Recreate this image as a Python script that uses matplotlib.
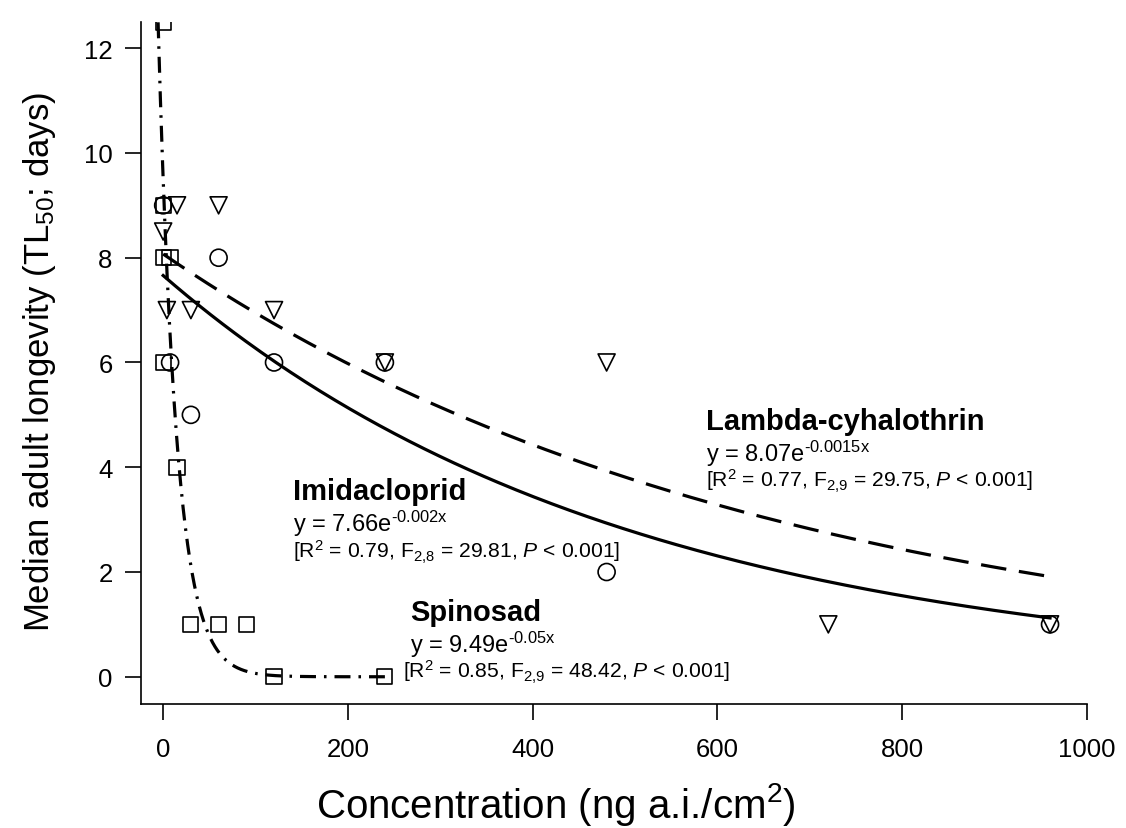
import numpy as np
import matplotlib
matplotlib.use("Agg")
import matplotlib.pyplot as plt

plt.rcParams['font.family'] = ['Liberation Sans', 'DejaVu Sans']
plt.rcParams['mathtext.fontset'] = 'custom'
plt.rcParams['mathtext.rm'] = 'Liberation Sans'
plt.rcParams['mathtext.it'] = 'Liberation Sans:italic'
plt.rcParams['mathtext.bf'] = 'Liberation Sans:bold'

# --- datos
spin_x = [0, 0, 0, 7.5, 0, 15, 30, 60, 90, 120, 240]
spin_y = [12.5, 9, 8, 8, 6, 4, 1, 1, 1, 0, 0]

imid_x = [0, 60, 7.5, 30, 120, 240, 480, 960]
imid_y = [9, 8, 6, 5, 6, 6, 2, 1]

lamb_x = [0, 15, 60, 4, 30, 120, 240, 480, 720, 960]
lamb_y = [8.5, 9, 9, 7, 7, 7, 6, 6, 1, 1]

# coeficientes de los ajustes exponenciales y = a*exp(b*x)
spin_a, spin_b = 9.49, -0.05
imid_a, imid_b = 7.66, -0.002
lamb_a, lamb_b = 8.07, -0.0015

x_ticks = [0, 200, 400, 600, 800, 1000]
y_ticks = [0, 2, 4, 6, 8, 10, 12]

W, H = 1126.0, 829.0
fig = plt.figure(figsize=(W / 100, H / 100), dpi=100)
ax = fig.add_axes([141 / W, 1 - 705 / H, (1087 - 141) / W, (705 - 23) / H])

# curvas
xs = np.linspace(-5.5, 240, 400)
ax.plot(xs, spin_a * np.exp(spin_b * xs), color="black", lw=2.3,
        linestyle=(0, (5, 2.5, 0.8, 2.5)))
xi = np.linspace(0, 960, 300)
ax.plot(xi, imid_a * np.exp(imid_b * xi), color="black", lw=2.3, linestyle="-")
ax.plot(xi, lamb_a * np.exp(lamb_b * xi), color="black", lw=2.3,
        linestyle=(0, (8, 4)))

# puntos
mk = dict(facecolor="none", edgecolor="black", linewidths=1.2, zorder=3)
ax.scatter(spin_x, spin_y, marker="s", s=120, **mk)
ax.scatter(imid_x, imid_y, marker="o", s=150, **mk)
ax.scatter(lamb_x, lamb_y, marker="v", s=150, **mk)

ax.set_xlim(-24, 1000)
ax.set_ylim(-0.52, 12.5)
ax.set_xticks(x_ticks)
ax.set_yticks(y_ticks)
for s in ["top", "right"]:
    ax.spines[s].set_visible(False)
for s in ["left", "bottom"]:
    ax.spines[s].set_linewidth(1.2)
ax.tick_params(axis="both", direction="out", length=11.5, width=1.2,
               labelsize=18.5)
ax.tick_params(axis="x", pad=12)
ax.tick_params(axis="y", pad=9)

# títulos de ejes (colocados en pixeles)
fig.text(556 / W, 1 - 805 / H, "Concentration (ng a.i./cm$^2$)", fontsize=29,
         ha="center", va="center")
fig.text(40 / W, 1 - 362 / H, "Median adult longevity (TL$_{50}$; days)",
         fontsize=25, ha="center", va="center", rotation=90)

# anotaciones
def bloque(x_px, y_base, nombre, eq, stats, dx_stats=0):
    # posiciones en pixeles de figura (origen arriba-izquierda)
    fig.text(x_px / W, 1 - y_base / H, nombre, fontsize=21, fontweight="bold",
             va="baseline", ha="left")
    fig.text(x_px / W, 1 - (y_base + 32) / H, eq, fontsize=17,
             va="baseline", ha="left")
    fig.text((x_px + dx_stats) / W, 1 - (y_base + 58) / H, stats, fontsize=15.2,
             va="baseline", ha="left")

bloque(706, 430, "Lambda-cyhalothrin", r"y = 8.07e$^{\text{-0.0015x}}$",
       r"[R$^2$ = 0.77, F$_{\text{2,9}}$ = 29.75, $P$ < 0.001]")
bloque(293, 500, "Imidacloprid", r"y = 7.66e$^{\text{-0.002x}}$",
       r"[R$^2$ = 0.79, F$_{\text{2,8}}$ = 29.81, $P$ < 0.001]")
bloque(410, 621, "Spinosad", r"y = 9.49e$^{\text{-0.05x}}$",
       r"[R$^2$ = 0.85, F$_{\text{2,9}}$ = 48.42, $P$ < 0.001]", dx_stats=-7)

fig.savefig("out.png", dpi=100)
